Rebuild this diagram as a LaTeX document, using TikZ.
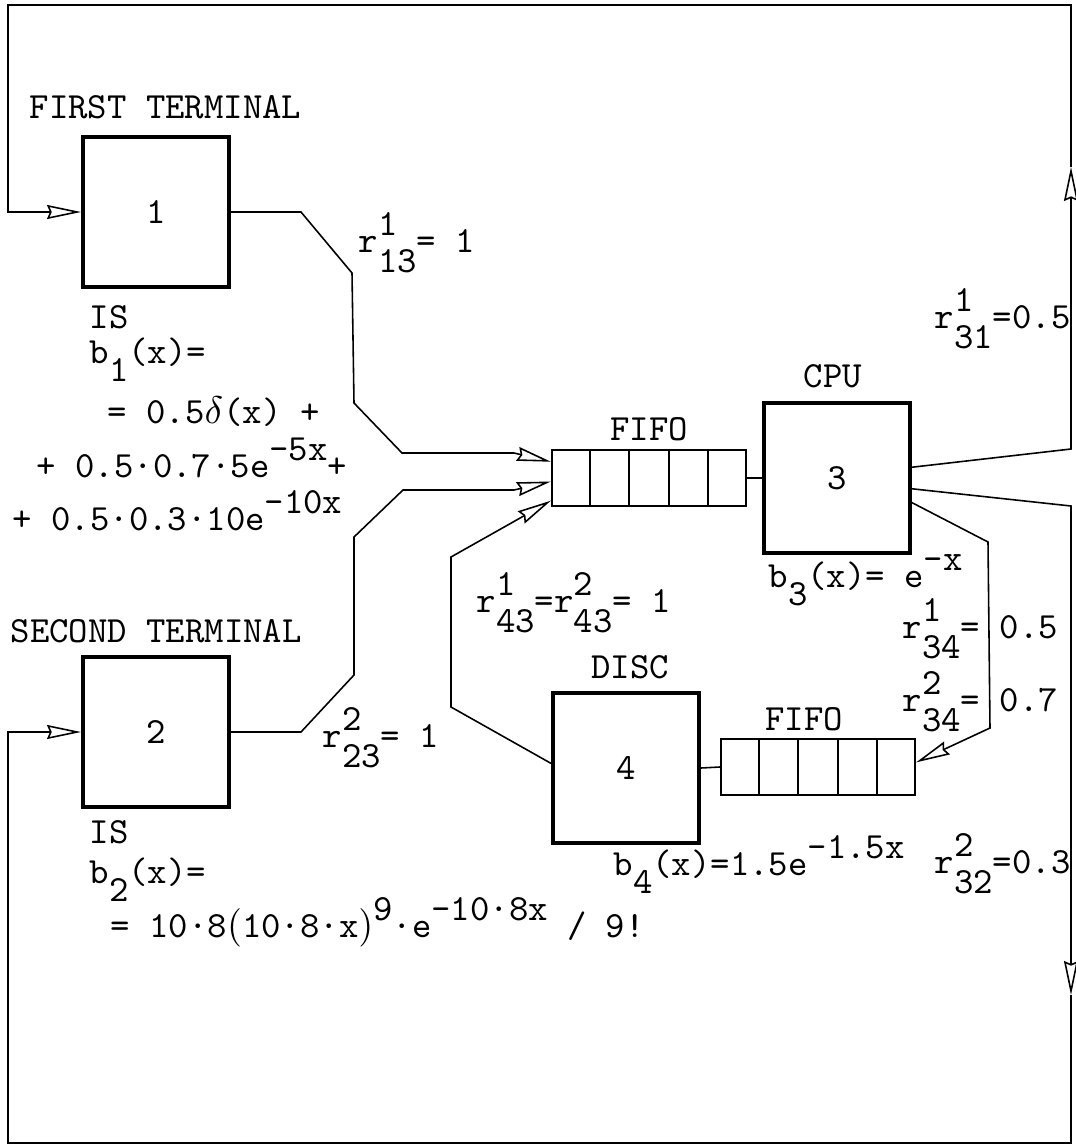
\documentclass[tikz,border=0pt]{standalone}
\usetikzlibrary{arrows.meta,calc}
\newcommand{\expo}[1]{\raisebox{0.45em}{#1}}
\newcommand{\indx}[1]{\raisebox{-0.5em}{#1}}
\newcommand{\rr}[2]{r\rlap{\raisebox{0.45em}{#1}}\raisebox{-0.55em}{#2}}
\begin{document}
\begin{tikzpicture}[x=0.01cm,y=-0.01cm,line width=0.45pt,
  every node/.style={font=\fontsize{10.5}{12}\selectfont\ttfamily,inner sep=0pt},
  station/.style={draw,line width=1.1pt,minimum width=1.46cm,minimum height=1.5cm},
  queue/.style={draw,line width=0.6pt,minimum width=1.94cm,minimum height=0.56cm},
  flow/.style={-{Stealth[open,length=3.4mm,width=1.4mm,inset=0.3mm]}}]
\useasboundingbox (0,0) rectangle (1075,1148);
% service stations and queues
\node[station] (b1) at (156,212) {1};
\node[station] (b2) at (156,732) {2};
\node[station] (b3) at (837,478) {3};
\node[station] (b4) at (626,768) {4};
\node[queue] (q1) at (649,478) {};
\node[queue] (q2) at (818,767) {};
\foreach \q in {q1,q2}
  \foreach \i in {1,...,4}
    \draw[line width=0.6pt] ($(\q.north west)!\i/5!(\q.north east)$) -- ($(\q.south west)!\i/5!(\q.south east)$);
\draw (q1.east) -- (b3.west);
\draw (q2.west) -- (b4.east);
% titles
\node[anchor=base west] (t1) at (29,118) {FIRST TERMINAL};
\node[anchor=base west] (t2) at (10,642) {SECOND TERMINAL};
\node[anchor=base] (cpu) at (833,387) {CPU};
\node[anchor=base] (fifo1) at (649,440) {FIFO};
\node[anchor=base] (disc) at (630,678) {DISC};
\node[anchor=base] (fifo2) at (804,730) {FIFO};
% service time densities
\node[anchor=base west] (is1) at (89,328) {IS};
\node[anchor=base west] (bx1) at (89,363) {b\indx{1}(x)=};
\node[anchor=base west] (bx1a) at (107,423) {= 0.5$\delta$(x) +};
\node[anchor=base west] (bx1b) at (36,477) {+ 0.5·0.7·5e\expo{-5x}+};
\node[anchor=base west] (bx1c) at (12,530) {+ 0.5·0.3·10e\expo{-10x}};
\node[anchor=base west] (bx3) at (768,587) {b\indx{3}(x)= e\expo{-x}};
\node[anchor=base west] (is2) at (89,843) {IS};
\node[anchor=base west] (bx2) at (89,883) {b\indx{2}(x)=};
\node[anchor=base west] (bx2a) at (110,937) {= 10·8$\bigl($10·8·x$\bigr)$\expo{9}·e\expo{-10·8x} / 9!};
\node[anchor=base west] (bx4) at (613,875) {b\indx{4}(x)=1.5e\expo{-1.5x}};
% routing probabilities
\node[anchor=base west] (p13) at (358,252) {\rr{1}{13}= 1};
\node[anchor=base west] (p23) at (322,747) {\rr{2}{23}= 1};
\node[anchor=base west] (p43) at (476,612) {\rr{1}{43}=\rr{2}{43}= 1};
\node[anchor=base west] (p31) at (934,328) {\rr{1}{31}=0.5};
\node[anchor=base west] (p34a) at (902,638) {\rr{1}{34}= 0.5};
\node[anchor=base west] (p34b) at (902,711) {\rr{2}{34}= 0.7};
\node[anchor=base west] (p32) at (934,873) {\rr{2}{32}=0.3};
% connectors
\coordinate (ret1) at (1071,167);
\coordinate (ret2) at (1071,995);
\draw[flow] (b1.east) -- (301,212) -- (352,273) -- (354,403) -- (402,453) -- (514,453) -- ($(q1.north west)!0.22!(q1.south west)$);
\draw[flow] (b2.east) -- (301,732) -- (354,675) -- (354,537) -- (403,490) -- (514,490) -- ($(q1.north west)!0.56!(q1.south west)$);
\draw[flow] ($(b4.north west)!0.47!(b4.south west)$) -- (451,707) -- (451,557) -- ($(q1.north west)!0.89!(q1.south west)$);
\draw[flow] ($(b3.north east)!0.66!(b3.south east)$) -- (988,542) -- (990,728) -- ($(q2.north east)!0.42!(q2.south east)$);
\draw[flow] ($(b3.north east)!0.43!(b3.south east)$) -- (1071,449) -- (ret1);
\draw[flow] (ret1) -- (1071,5) -- (8,5) -- (8,212) -- (b1.west);
\draw[flow] ($(b3.north east)!0.57!(b3.south east)$) -- (1071,506) -- (ret2);
\draw[flow] (ret2) -- (1071,1143) -- (8,1143) -- (8,732) -- (b2.west);
\end{tikzpicture}
\end{document}
